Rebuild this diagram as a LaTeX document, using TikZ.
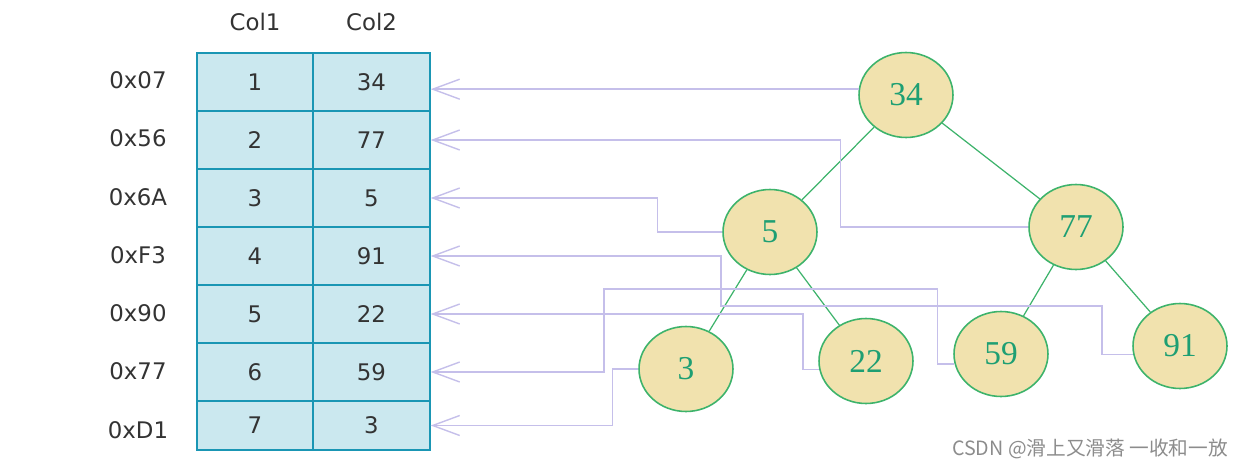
\documentclass[tikz,border=0pt]{standalone}
\usepackage{fontspec}
\setmainfont{DejaVu Sans}
\newfontfamily\treefont{Liberation Serif}
\newfontfamily\cjkfont{Noto Sans CJK SC}
\usetikzlibrary{shapes.geometric,arrows.meta}
\definecolor{cellfill}{HTML}{CBE8EF}
\definecolor{cellline}{HTML}{1A96B4}
\definecolor{keyfill}{HTML}{F1E2AE}
\definecolor{keyline}{HTML}{3DB36B}
\definecolor{keytext}{HTML}{1E9F73}
\definecolor{ptrline}{HTML}{C5BFEA}
\tikzset{
  tabcell/.style={draw=cellline, fill=cellfill, line width=1.1pt, minimum width=2.33cm,
    minimum height=1.16cm, inner sep=0pt, text=black!80, font=\fontsize{13}{15}\selectfont},
  addr/.style={text=black!80, font=\fontsize{13}{15}\selectfont},
  key/.style={ellipse, draw=keyline, fill=keyfill, line width=0.9pt, minimum width=1.88cm,
    minimum height=1.7cm, inner sep=0pt, text=keytext, font=\treefont\fontsize{19}{21}\selectfont},
  edge/.style={draw=keyline, line width=0.7pt},
  ptr/.style={draw=ptrline, line width=0.8pt, -{Straight Barb[length=5.4mm, width=4mm]}}
}
\begin{document}
\begin{tikzpicture}[x=0.02cm, y=-0.02cm]
  \useasboundingbox (0,0) rectangle (1245,470);
  \node [addr] (h1) at (255, 22) {Col1};
  \node [addr] (h2) at (371.5, 22) {Col2};
  \node [addr] (a1) at (138, 80) {0x07};
  \node [addr] (a2) at (138, 138) {0x56};
  \node [addr] (a3) at (138, 197) {0x6A};
  \node [addr] (a4) at (138, 255) {0xF3};
  \node [addr] (a5) at (138, 313) {0x90};
  \node [addr] (a6) at (138, 371) {0x77};
  \node [addr] (a7) at (138, 430) {0xD1};
  \node [tabcell] (k1) at (255, 82) {1};
  \node [tabcell] (v1) at (371.5, 82) {34};
  \node [tabcell] (k2) at (255, 140) {2};
  \node [tabcell] (v2) at (371.5, 140) {77};
  \node [tabcell] (k3) at (255, 198) {3};
  \node [tabcell] (v3) at (371.5, 198) {5};
  \node [tabcell] (k4) at (255, 256) {4};
  \node [tabcell] (v4) at (371.5, 256) {91};
  \node [tabcell] (k5) at (255, 314) {5};
  \node [tabcell] (v5) at (371.5, 314) {22};
  \node [tabcell] (k6) at (255, 372) {6};
  \node [tabcell] (v6) at (371.5, 372) {59};
  \node [tabcell, minimum height=0.98cm] (k7) at (255, 425.5) {7};
  \node [tabcell, minimum height=0.98cm] (v7) at (371.5, 425.5) {3};
  \node [key] (n34) at (906, 95) {34};
  \node [key] (n5) at (770, 232) {5};
  \node [key] (n77) at (1076, 227) {77};
  \node [key] (n3) at (686, 369) {3};
  \node [key] (n22) at (866, 361) {22};
  \node [key] (n59) at (1001, 354) {59};
  \node [key] (n91) at (1180, 346) {91};
  \draw [edge] (n34) -- (n5);
  \draw [edge] (n34) -- (n77);
  \draw [edge] (n5) -- (n3);
  \draw [edge] (n5) -- (n22);
  \draw [edge] (n77) -- (n59);
  \draw [edge] (n77) -- (n91);
  \draw [ptr] (n34.173) -- (n34.173 -| v1.east);
  \draw [ptr] (n77.west) -- ++(-188,0) |- (v2.east);
  \draw [ptr] (n5.west) -- ++(-65,0) |- (v3.east);
  \draw [ptr] (n91.190) -- ++(-31,0) |- (721,306) |- (v4.east);
  \draw [ptr] (n22.190) -- ++(-16,0) |- (v5.east);
  \draw [ptr] (n59.192) -- ++(-17,0) |- (604,289) |- (v6.east);
  \draw [ptr] (n3.west) -- ++(-26,0) |- (v7.east);
  \node [text=black!45, font=\cjkfont\fontsize{11.2}{13}\selectfont] (mark) at (1090, 449) {CSDN @滑上又滑落 一收和一放};
\end{tikzpicture}
\end{document}
